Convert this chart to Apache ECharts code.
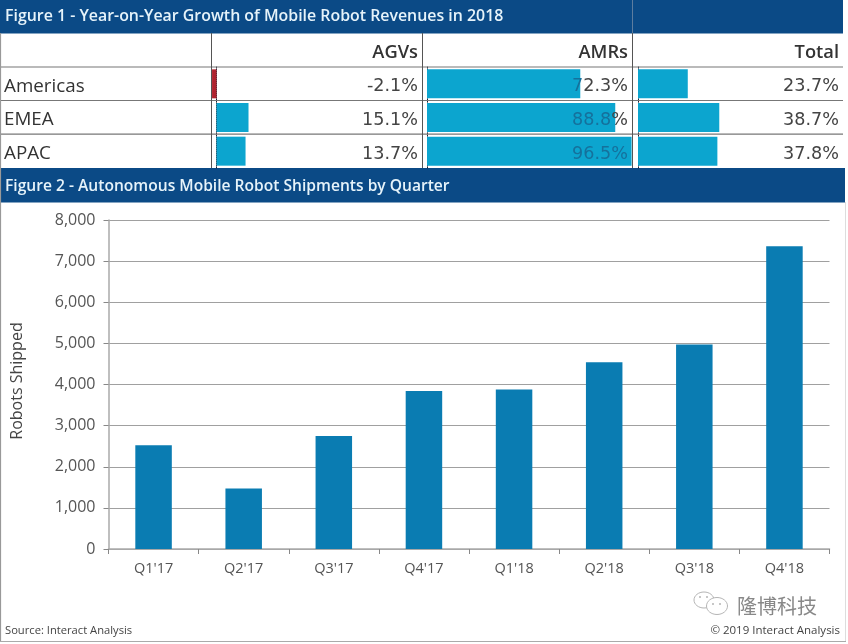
<!DOCTYPE html>
<html><head><meta charset="utf-8">
<style>html,body{margin:0;padding:0;background:#fff}#c{width:848px;height:644px}</style>
<script src="https://cdn.jsdelivr.net/npm/echarts@6/dist/echarts.min.js"></script>
</head><body><div id="c"></div>
<script>
const figure1Title = "Figure 1 - Year-on-Year Growth of Mobile Robot Revenues in 2018";
const figure2Title = "Figure 2 - Autonomous Mobile Robot Shipments by Quarter";
const regions = ["Americas", "EMEA", "APAC"];
const columns = ["AGVs", "AMRs", "Total"];
const agvs = [-2.1, 15.1, 13.7];
const amrs = [72.3, 88.8, 96.5];
const totals = [23.7, 38.7, 37.8];
const quarters = ["Q1'17","Q2'17","Q3'17","Q4'17","Q1'18","Q2'18","Q3'18","Q4'18"];
const shipments = [2520, 1470, 2750, 3840, 3880, 4540, 4970, 7360];
const yAxisTitle = "Robots Shipped";
const sourceText = "Source: Interact Analysis";
const copyrightText = "© 2019 Interact Analysis";
const watermark = "隆博科技";

const NAVY = "#0b4a86", LINE = "#777", BLUE = "#0ca5cf", F = '"Open Sans", sans-serif';
const chart = echarts.init(document.getElementById("c"), null, {renderer:"canvas"});

const tableGrids = [
  {left:211.2, width:212, min:-2.5, max:97.5},
  {left:427, width:212, min:0, max:100},
  {left:638, width:212, min:0, max:100}
];
const colData = [agvs, amrs, totals];
const colRight = [418, 628, 839];
const grids = tableGrids.map(g => ({left:g.left, width:g.width, top:67, height:101, containLabel:false}));
grids.push({left:108.5, right:18.5, top:220, bottom:95});

const xAxes = tableGrids.map((g,i) => ({type:"value", gridIndex:i, min:g.min, max:g.max, show:false}));
xAxes.push({type:"category", gridIndex:3, data:quarters,
  axisLine:{lineStyle:{color:"#aaa",width:1.5}},
  axisTick:{show:true,length:5,lineStyle:{color:"#888"},alignWithLabel:false},
  axisLabel:{color:"#555",fontSize:14.5,fontFamily:F,margin:12}});
const yAxes = tableGrids.map((g,i) => ({type:"category", gridIndex:i, data:regions, inverse:true,
  axisLine:{show:true,onZero:true,lineStyle:{color:"#223",type:"dotted",width:1}},
  axisTick:{show:false}, axisLabel:{show:false}, splitLine:{show:false}}));
yAxes.push({type:"value", gridIndex:3, min:0, max:8000, interval:1000,
  axisLine:{show:true,lineStyle:{color:"#aaa",width:1.5}},
  axisTick:{show:true,length:5,lineStyle:{color:"#888"}},
  axisLabel:{color:"#555",fontSize:16,fontFamily:F,margin:13,
    formatter:v=>v.toLocaleString("en-US")},
  splitLine:{lineStyle:{color:"#a0a0a0",width:1}}});

const series = colData.map((d,i) => ({type:"bar", xAxisIndex:i, yAxisIndex:i, barWidth:29, z:3,
  silent:true, data:d.map(v => ({value:v, itemStyle:{color:v<0?"#b0232f":BLUE}}))}));
series.push({type:"bar", xAxisIndex:3, yAxisIndex:3, data:shipments, barWidth:36.5, z:3, silent:true,
  itemStyle:{color:"#0a7cb2"}});

// how many leading characters of a value's text sit over its bar
function cellText(v, col) {
  const s = v.toFixed(1) + "%";
  const g = tableGrids[col];
  const barEnd = g.left + (v - g.min) / (g.max - g.min) * g.width;
  const charW = 11.3, start = colRight[col] - s.length * charW;
  let n = Math.round((barEnd - start) / charW);
  n = Math.max(0, Math.min(s.length, n));
  return (n ? "{o|" + s.slice(0,n) + "}" : "") + (n < s.length ? "{p|" + s.slice(n) + "}" : "");
}
const rowTop = [67, 100.7, 134.4], rowH = 33.6;
const g = [];
const rect = (x,y,w,h,fill,z) => g.push({type:"rect",z:z||0,silent:true,shape:{x,y,width:w,height:h},style:{fill}});
const vline = (x,y1,y2,c,w,z) => g.push({type:"line",z:z||1,silent:true,shape:{x1:x,y1,x2:x,y2},style:{stroke:c,lineWidth:w||1}});
const hline = (y,x1,x2,c,w,z) => g.push({type:"line",z:z||1,silent:true,shape:{x1,y1:y,x2,y2:y},style:{stroke:c,lineWidth:w||1}});
const text = (x,y,t,font,fill,align) => g.push({type:"text",z:20,silent:true,x,y,
  style:{text:t,font,fill,align:align||"left",verticalAlign:"middle"}});

rect(0,0,843,33.5,NAVY);
rect(0,168,845,34.5,NAVY);
vline(632.5,0,33,"#5d7d9f",1);
[67,100.5,134.2].forEach(y=>hline(y,0,843,LINE,1.2));
[211.5,422.5,632.5].forEach(x=>vline(x,33,168,"#555",1));
// page border
vline(0.5,33,641,"#999",1.2);
hline(641.5,0,846,"#aaa",1.2);
vline(845.5,202,641,"#ddd",1);

text(5,16.5,figure1Title,"600 15.9px "+F,"#e6f3fa");
text(5,186.5,figure2Title,"600 15.6px "+F,"#e6f3fa");
columns.forEach((c,i)=>text(colRight[i],53,c,"600 18.3px "+F,"#333","right"));
regions.forEach((r,i)=>text(4,rowTop[i]+rowH/2+2.5,r,"500 18.8px "+F,"#333"));
colData.forEach((d,c)=>d.forEach((v,r)=>{
  g.push({type:"text",z:20,silent:true,x:colRight[c],y:rowTop[r]+rowH/2+3,
    style:{text:cellText(v,c),align:"right",verticalAlign:"middle",
      rich:{o:{fill:"#15719c",fontFamily:"DejaVu Sans",fontSize:17.6},
            p:{fill:"#444",fontFamily:"DejaVu Sans",fontSize:17.6}}}});
}));
g.push({type:"text",z:20,silent:true,x:17,y:381,rotation:Math.PI/2,
  style:{text:yAxisTitle,font:"16px "+F,fill:"#444",align:"center",verticalAlign:"middle"}});
text(5,631,sourceText,"11.2px "+F,"#444");
text(840,631,copyrightText,"11.5px "+F,"#444","right");
text(737,606,watermark,"20px 'Noto Sans CJK SC'","#888");
// WeChat mark beside the watermark
[[704,600,10,8],[717,606,10.5,8.5]].forEach(a=>g.push({type:"ellipse",z:20,silent:true,
  shape:{cx:a[0],cy:a[1],rx:a[2],ry:a[3]},style:{fill:"#fff",stroke:"#b5b5b5",lineWidth:1}}));
[[700,597],[707,597],[713,604],[720,604]].forEach(a=>g.push({type:"circle",z:21,silent:true,
  shape:{cx:a[0],cy:a[1],r:1},style:{fill:"#b5b5b5"}}));

chart.setOption({animation:false, backgroundColor:"#fff", grid:grids, xAxis:xAxes, yAxis:yAxes, series, graphic:{elements:g}});
</script></body></html>
